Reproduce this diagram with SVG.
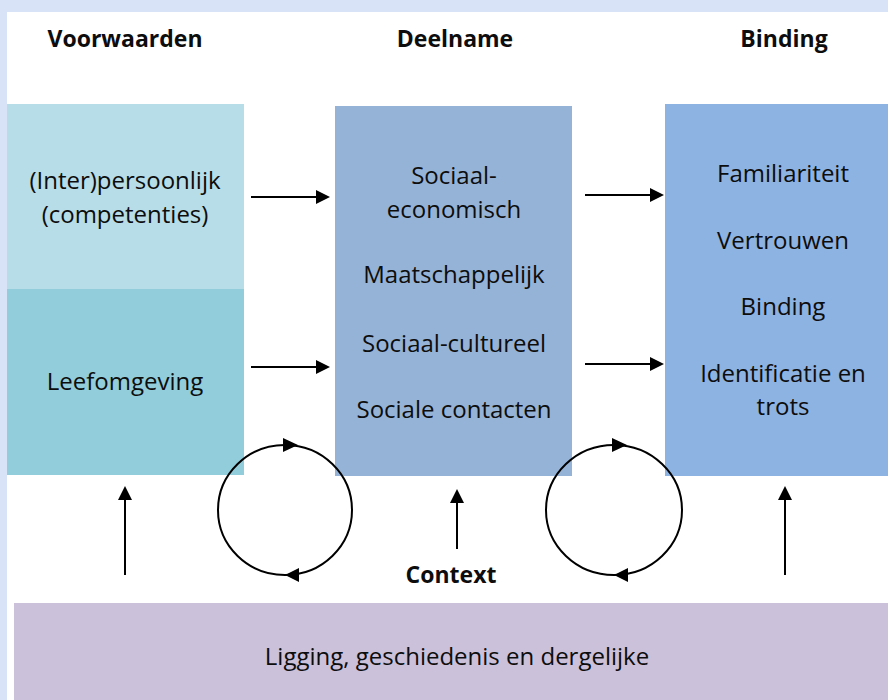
<svg xmlns="http://www.w3.org/2000/svg" width="888" height="700" viewBox="0 0 888 700">
<style>
text{font-family:"Open Sans","Noto Sans","Liberation Sans",sans-serif;font-size:24px;fill:#0d0d0d;text-anchor:middle}
.h{font-weight:bold;font-size:23px}
.ln{stroke:#000;stroke-width:2;fill:none}
.hd{fill:#000}
</style>
<rect x="0" y="0" width="888" height="700" fill="#d9e3f8"/>
<rect x="7" y="12" width="881" height="688" fill="#fff"/>
<g id="headings">
<text class="h" x="125" y="47">Voorwaarden</text>
<text class="h" x="455" y="47">Deelname</text>
<text class="h" x="784" y="47">Binding</text>
</g>
<g id="persoonlijk">
<rect x="7" y="104" width="237" height="186" fill="#b7dde8"/>
<text x="125" y="189">(Inter)persoonlijk</text>
<text x="125" y="223">(competenties)</text>
</g>
<g id="leefomgeving">
<rect x="7" y="289" width="237" height="186" fill="#92cddc"/>
<text x="125" y="390">Leefomgeving</text>
</g>
<g id="deelname">
<rect x="335" y="106" width="237" height="370" fill="#95b3d7"/>
<text x="454" y="184">Sociaal-</text>
<text x="454" y="218">economisch</text>
<text x="454" y="283">Maatschappelijk</text>
<text x="454" y="352">Sociaal-cultureel</text>
<text x="454" y="418">Sociale contacten</text>
</g>
<g id="binding">
<rect x="665" y="104" width="223" height="372" fill="#8db3e2"/>
<text x="783" y="182">Familiariteit</text>
<text x="783" y="249">Vertrouwen</text>
<text x="783" y="315">Binding</text>
<text x="783" y="382">Identificatie en</text>
<text x="783" y="415">trots</text>
</g>
<g id="context">
<rect x="14" y="603" width="874" height="97" fill="#ccc1da"/>
<text class="h" x="451" y="583">Context</text>
<text x="457" y="665">Ligging, geschiedenis en dergelijke</text>
</g>
<g id="connectors">
<line class="ln" x1="251" y1="197" x2="318" y2="197"/>
<path class="hd" d="M316,190 L330,197 L316,204 Z"/>
<line class="ln" x1="251" y1="367" x2="318" y2="367"/>
<path class="hd" d="M316,360 L330,367 L316,374 Z"/>
<line class="ln" x1="585" y1="195" x2="652" y2="195"/>
<path class="hd" d="M650,188 L664,195 L650,202 Z"/>
<line class="ln" x1="585" y1="364" x2="652" y2="364"/>
<path class="hd" d="M650,357 L664,364 L650,371 Z"/>
<line class="ln" x1="125" y1="575" x2="125" y2="498"/>
<path class="hd" d="M118,500 L125,486 L132,500 Z"/>
<line class="ln" x1="457" y1="549" x2="457" y2="501"/>
<path class="hd" d="M450,503 L457,489 L464,503 Z"/>
<line class="ln" x1="785" y1="575" x2="785" y2="498"/>
<path class="hd" d="M778,500 L785,486 L792,500 Z"/>
<ellipse class="ln" cx="285" cy="510" rx="67" ry="65"/>
<path class="hd" d="M283,438 L298,445 L283,452 Z"/>
<path class="hd" d="M299,568 L285,575 L299,582 Z"/>
<ellipse class="ln" cx="614" cy="510" rx="68" ry="65"/>
<path class="hd" d="M612,438 L627,445 L612,452 Z"/>
<path class="hd" d="M628,568 L614,575 L628,582 Z"/>
</g>
</svg>
